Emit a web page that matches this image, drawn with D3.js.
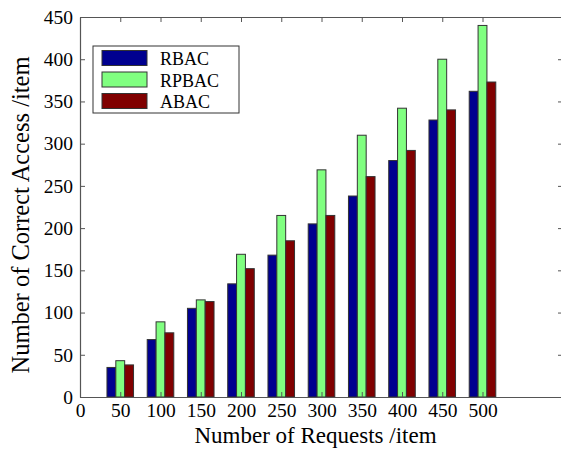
<!DOCTYPE html>
<html>
<head>
<meta charset="utf-8">
<script src="https://cdn.jsdelivr.net/npm/d3@7"></script>
<style>
  body { margin: 0; background: #fff; }
  text { font-family: "Liberation Serif", "Times New Roman", serif; fill: #000; }
</style>
</head>
<body>
<div id="chart"></div>
<script>
// data
var requests = [50, 100, 150, 200, 250, 300, 350, 400, 450, 500];
var rbac  = [35, 68, 105, 134, 168, 205, 238, 280, 328, 362];
var rpbac = [43, 89, 115, 169, 215, 269, 310, 342, 400, 440];
var abac  = [38, 76, 113, 152, 185, 215, 261, 292, 340, 373];
var seriesNames = ["RBAC", "RPBAC", "ABAC"];
var seriesColors = ["#00008f", "#80ff80", "#800000"];
var xTicks = [0, 50, 100, 150, 200, 250, 300, 350, 400, 450, 500];
var yTicks = [0, 50, 100, 150, 200, 250, 300, 350, 400, 450];

var series = [rbac, rpbac, abac];

var W = 561, H = 451;
var margin = {left: 80, top: 17, right: -2, bottom: 54};
var width = W - margin.left - margin.right;
var height = H - margin.top - margin.bottom;

var svg = d3.select("#chart")
    .append("svg")
    .attr("width", W)
    .attr("height", H)
  .append("g")
    .attr("transform", "translate(" + margin.left + "," + margin.top + ")");

var x = d3.scaleLinear().domain([0, 600]).range([0, width]);
var y = d3.scaleLinear().domain([0, 450]).range([height, 0]);

// bar width in data units (bars touch each other)
var barW = 11;

// bars
series.forEach(function(vals, si) {
    svg.append("g").selectAll("rect")
        .data(vals)
        .enter()
        .append("rect")
        .attr("x", function(d, i) { return x(requests[i] + (si - 1.5) * barW); })
        .attr("width", x(barW) - x(0))
        .attr("y", function(d) { return y(d); })
        .attr("height", function(d) { return y(0) - y(d); })
        .attr("fill", seriesColors[si])
        .attr("stroke", "#333")
        .attr("stroke-width", 1);
});

// axes, ticks pointing inward on all four sides
var tickLen = 5;
var fmt = d3.format("d");

var xBottom = svg.append("g")
    .attr("transform", "translate(0," + height + ")")
    .call(d3.axisBottom(x).tickValues(xTicks).tickSizeInner(-tickLen).tickSizeOuter(0).tickFormat(fmt).tickPadding(6));
var xTop = svg.append("g")
    .call(d3.axisTop(x).tickValues(xTicks).tickSizeInner(-tickLen).tickSizeOuter(0).tickFormat(""));
var yLeft = svg.append("g")
    .call(d3.axisLeft(y).tickValues(yTicks).tickSizeInner(-tickLen).tickSizeOuter(0).tickFormat(fmt).tickPadding(7));
var yRight = svg.append("g")
    .attr("transform", "translate(" + width + ",0)")
    .call(d3.axisRight(y).tickValues(yTicks).tickSizeInner(-tickLen).tickSizeOuter(0).tickFormat(""));

[xBottom, xTop, yLeft, yRight].forEach(function(a) {
    a.attr("font-family", "Liberation Serif").attr("font-size", 19.5);
    a.selectAll("path").attr("stroke", "#555").attr("stroke-width", 1.2);
    a.selectAll("line").attr("stroke", "#555");
    a.selectAll("text").attr("fill", "#000");
});

// axis labels
svg.append("text")
    .attr("text-anchor", "middle")
    .attr("x", width / 2 - 6)
    .attr("y", height + 46)
    .style("font-size", "23px")
    .text("Number of Requests /item");

svg.append("text")
    .attr("text-anchor", "middle")
    .attr("transform", "rotate(-90)")
    .attr("x", -height / 2 - 8)
    .attr("y", -51)
    .style("font-size", "24.5px")
    .text("Number of Correct Access /item");

// legend
var legend = svg.append("g").attr("transform", "translate(13,29)");
legend.append("rect")
    .attr("width", 146)
    .attr("height", 67)
    .attr("fill", "#fff")
    .attr("stroke", "#333")
    .attr("stroke-width", 1);

var items = legend.selectAll("g.item")
    .data(seriesNames)
    .enter()
    .append("g")
    .attr("transform", function(d, i) { return "translate(0," + (i * 21.5) + ")"; });

items.append("rect")
    .attr("x", 9)
    .attr("y", 4.5)
    .attr("width", 45)
    .attr("height", 15)
    .attr("fill", function(d, i) { return seriesColors[i]; })
    .attr("stroke", "#333")
    .attr("stroke-width", 1);

items.append("text")
    .attr("x", 67)
    .attr("y", 19)
    .style("font-size", "18px")
    .text(function(d) { return d; });
</script>
</body>
</html>
